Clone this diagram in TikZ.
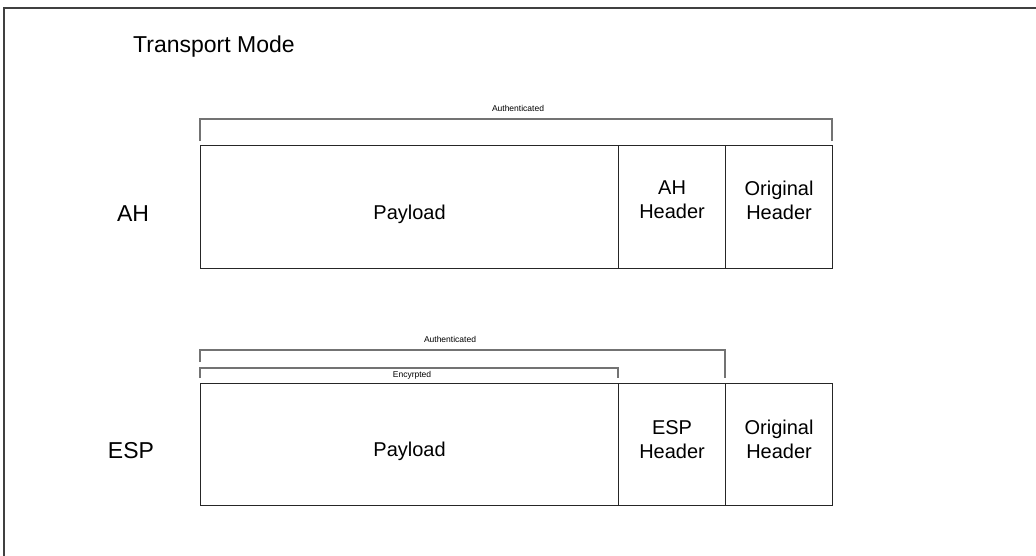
\documentclass[tikz,border=0pt]{standalone}
\usepackage{fontspec}
\setmainfont{Liberation Sans}
\begin{document}
\begin{tikzpicture}[x=1pt,y=-1pt,
  frame/.style={draw=black!75,line width=2pt},
  cell/.style={draw=black!85,line width=1.1pt,anchor=north west,inner sep=0pt},
  ctext/.style={inner sep=0pt,align=center,font=\fontsize{20}{24}\selectfont},
  brk/.style={draw=black!55,line width=1.6pt},
  small/.style={font=\fontsize{8.5}{10}\selectfont,inner sep=0pt},
  lbl/.style={font=\fontsize{23}{27}\selectfont,inner sep=0pt}]
\useasboundingbox (0,0) rectangle (1036,555);
\draw[frame] (4,556) -- (4,8) -- (1037,8);
\node[font=\fontsize{23}{27}\selectfont,anchor=west,inner sep=0pt] (title) at (133,47) {Transport Mode};
% AH row
\node[lbl] (ah) at (133,214) {AH};
\node[cell,minimum width=418pt,minimum height=123pt] (pay1) at (200,145) {};
\node[cell,minimum width=107pt,minimum height=123pt] (ahh) at (618,145) {};
\node[cell,minimum width=107pt,minimum height=123pt] (orig1) at (725,145) {};
\node[ctext] (pay1t) at ([yshift=-7pt]pay1.center) {Payload};
\node[ctext] (ahht) at ([yshift=7pt]ahh.center) {AH\\Header};
\node[ctext] (orig1t) at ([yshift=7pt]orig1.center) {Original\\Header};
\draw[brk] (200,141) |- (832,119) -- (832,141);
\node[small] (auth1) at (518,108) {Authenticated};
% ESP row
\node[lbl] (esp) at (131,451) {ESP};
\node[cell,minimum width=418pt,minimum height=122pt] (pay2) at (200,383) {};
\node[cell,minimum width=107pt,minimum height=122pt] (esph) at (618,383) {};
\node[cell,minimum width=107pt,minimum height=122pt] (orig2) at (725,383) {};
\node[ctext] (pay2t) at ([yshift=-7pt]pay2.center) {Payload};
\node[ctext] (espht) at ([yshift=5pt]esph.center) {ESP\\Header};
\node[ctext] (orig2t) at ([yshift=5pt]orig2.center) {Original\\Header};
\draw[brk] (200,362) |- (725,350) -- (725,378);
\node[small] (auth2) at (450,339) {Authenticated};
\draw[brk] (200,378) |- (618,368) -- (618,378);
\node[small] (enc) at (412,375) {Encyrpted};
\end{tikzpicture}
\end{document}
